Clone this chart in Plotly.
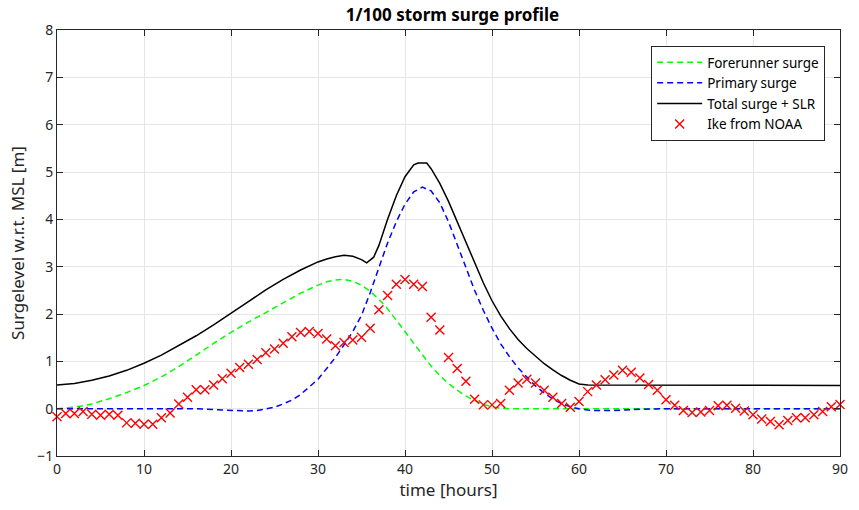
import plotly.graph_objects as go

# Ike observations (hourly, 0..90)
ike_hours = list(range(0, 91))
ike_vals = [-0.17, -0.10, -0.10, -0.06, -0.12, -0.14, -0.12, -0.14, -0.30, -0.31,
            -0.33, -0.33, -0.19, -0.09, 0.10, 0.24, 0.40, 0.40, 0.50, 0.63,
            0.75, 0.87, 0.94, 1.04, 1.18, 1.26, 1.38, 1.52, 1.61, 1.63,
            1.59, 1.47, 1.33, 1.40, 1.45, 1.51, 1.70, 2.09, 2.39, 2.63,
            2.73, 2.63, 2.58, 1.93, 1.66, 1.08, 0.85, 0.58, 0.20, 0.08,
            0.08, 0.11, 0.39, 0.54, 0.62, 0.54, 0.39, 0.24, 0.11, 0.03,
            0.15, 0.36, 0.50, 0.61, 0.71, 0.81, 0.77, 0.65, 0.51, 0.39,
            0.19, 0.07, -0.04, -0.08, -0.07, -0.04, 0.06, 0.07, 0.01, -0.05,
            -0.13, -0.22, -0.27, -0.34, -0.25, -0.19, -0.19, -0.13, -0.06, 0.04,
            0.09]

# Forerunner surge
fore_hours = [0, 2, 4, 6, 8, 10, 12, 14, 16, 18, 20, 22, 24, 26, 28, 30, 31, 32, 33,
              34, 35, 36, 37, 38, 39, 40, 41, 42, 43, 44, 45, 46, 47, 48, 49, 50, 51, 52, 60, 70, 80, 90]
fore_vals = [0.0, 0.03, 0.10, 0.21, 0.34, 0.49, 0.67, 0.89, 1.13, 1.38, 1.61, 1.83, 2.03, 2.23, 2.44, 2.61, 2.68, 2.72, 2.73,
             2.69, 2.61, 2.48, 2.31, 2.11, 1.88, 1.63, 1.38, 1.13, 0.90, 0.70, 0.53, 0.39, 0.27, 0.17, 0.09, 0.04, 0.01, 0.0, 0.0, 0.0, 0.0, 0.0]

# Primary surge
prim_hours = [0, 10, 14, 16, 18, 20, 22, 23, 24, 25, 26, 27, 28, 29, 30, 31, 32, 33, 34, 35, 36, 37, 38, 39,
              40, 41, 42, 43, 44, 45, 46, 47, 48, 49, 50, 51, 52, 53, 54, 55, 56, 57, 58, 59, 60, 61, 62,
              64, 66, 68, 70, 80, 90]
prim_vals = [0.0, 0.0, 0.0, 0.0, -0.02, -0.04, -0.05, -0.04, -0.01, 0.03, 0.10, 0.18, 0.30, 0.45, 0.62, 0.85, 1.08, 1.35, 1.63, 1.97, 2.45, 2.98, 3.50, 3.95,
             4.32, 4.58, 4.68, 4.60, 4.35, 3.95, 3.48, 2.98, 2.50, 2.08, 1.70, 1.37, 1.10, 0.86, 0.66, 0.48, 0.33, 0.20, 0.11, 0.04, 0.0, -0.03, -0.04,
             -0.04, -0.02, -0.01, 0.0, 0.0, 0.0]

# Total surge + SLR
tot_hours = [0, 2, 4, 6, 8, 10, 12, 14, 16, 18, 20, 22, 24, 26, 28, 30, 31, 32, 33, 34, 35, 35.6, 36.4, 37, 38, 39,
             40, 41, 41.5, 42.5, 43, 44, 45, 46, 47, 48, 49, 50, 51, 52, 53, 54, 55, 56, 57, 58, 59, 60, 61, 70, 80, 90]
tot_vals = [0.50, 0.53, 0.60, 0.69, 0.81, 0.96, 1.13, 1.33, 1.54, 1.77, 2.01, 2.26, 2.51, 2.73, 2.93, 3.10, 3.16, 3.21, 3.24, 3.22, 3.15, 3.08, 3.20, 3.45, 4.00, 4.50,
            4.90, 5.15, 5.19, 5.19, 5.07, 4.76, 4.38, 3.95, 3.50, 3.06, 2.66, 2.28, 1.96, 1.69, 1.46, 1.27, 1.10, 0.95, 0.82, 0.70, 0.60, 0.52, 0.50, 0.50, 0.49, 0.49]

x_ticks = [0, 10, 20, 30, 40, 50, 60, 70, 80, 90]
y_ticks = [-1, 0, 1, 2, 3, 4, 5, 6, 7, 8]

FONT = "Noto Sans"
AX = "#262626"

fig = go.Figure()
fig.add_trace(go.Scatter(x=fore_hours, y=fore_vals, mode="lines", name="Forerunner surge",
                         line=dict(color="#00ff00", width=1.5, dash="6px,4px")))
fig.add_trace(go.Scatter(x=prim_hours, y=prim_vals, mode="lines", name="Primary surge",
                         line=dict(color="#0000ff", width=1.5, dash="6px,4px")))
fig.add_trace(go.Scatter(x=tot_hours, y=tot_vals, mode="lines", name="Total surge + SLR",
                         line=dict(color="#000000", width=1.5)))
fig.add_trace(go.Scatter(x=ike_hours, y=ike_vals, mode="markers", name="Ike from NOAA",
                         marker=dict(symbol="x-thin", size=9, line=dict(color="#ff0000", width=1.4)),
                         cliponaxis=False))

axis_common = dict(showgrid=True, gridcolor="#e6e6e6", gridwidth=1, zeroline=False,
                   showline=True, linecolor=AX, linewidth=1, mirror="allticks",
                   ticks="inside", ticklen=6, tickcolor=AX,
                   tickfont=dict(family=FONT, size=14, color=AX))

fig.update_layout(
    width=859, height=510,
    margin=dict(l=57, r=11, t=30, b=54),
    paper_bgcolor="white", plot_bgcolor="white",
    title=dict(text="<b>1/100 storm surge profile</b>", x=(57 + 848) / 2 / 859, xanchor="center",
               y=1 - 15 / 510, yanchor="middle", font=dict(family=FONT, size=17, color="#000000")),
    xaxis=dict(range=[0, 90], tickvals=x_ticks,
               title=dict(text="time [hours]", font=dict(family=FONT, size=17, color=AX), standoff=6),
               **axis_common),
    yaxis=dict(range=[-1, 8], tickvals=y_ticks,
               title=dict(text="Surgelevel w.r.t. MSL [m]", font=dict(family=FONT, size=17, color=AX), standoff=8),
               **axis_common),
    legend=dict(x=(833 - 57) / 791, y=(456 - 46) / 426, xanchor="right", yanchor="top",
                bgcolor="white", bordercolor=AX, borderwidth=1,
                font=dict(family=FONT, size=13.5, color="#000000"),
                tracegroupgap=0, itemwidth=45),
    showlegend=True,
)

fig.write_html("out.html")
